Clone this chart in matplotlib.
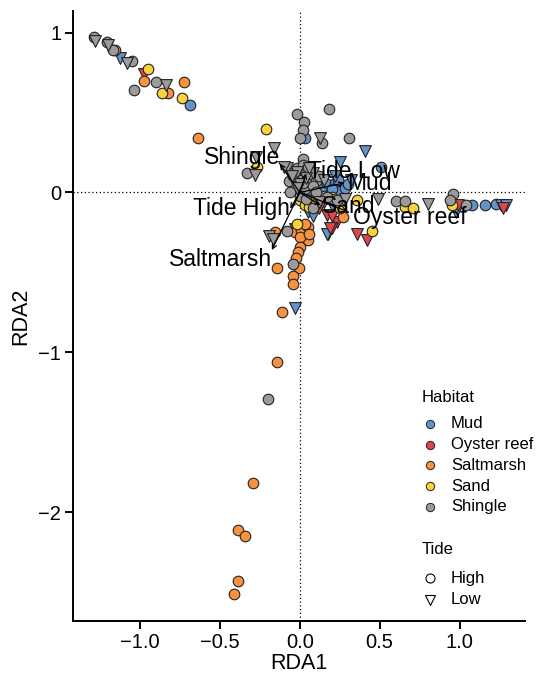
import matplotlib.pyplot as plt
from matplotlib.lines import Line2D
import numpy as np

plt.rcParams['font.family'] = ['Liberation Sans', 'DejaVu Sans']

habitats = ['Mud', 'Oyster reef', 'Saltmarsh', 'Sand', 'Shingle']
tides = ['High', 'Low']
colours = {'Mud': '#6393CB', 'Oyster reef': '#E0474C', 'Saltmarsh': '#F8923F',
           'Sand': '#F9D23C', 'Shingle': '#9B9B9B'}

# site scores: (RDA1, RDA2)
mud_high = [(-0.69, 0.55), (0.03, 0.34), (0.51, 0.16), (1.08, -0.08), (1.16, -0.08),
            (1.23, -0.07), (0.12, 0.03), (0.17, 0.05), (0.22, 0.06), (0.18, -0.02),
            (0.25, 0.01), (0.28, 0.03), (0.10, -0.03), (0.30, 0.05), (0.14, 0.0),
            (0.20, 0.02), (0.24, 0.08)]
mud_low = [(-1.125, 0.84), (0.41, 0.26), (0.25, 0.19), (1.26, -0.08), (1.29, -0.08),
           (-0.03, -0.725), (0.175, -0.26), (0.06, 0.0), (0.05, -0.12), (0.15, -0.06),
           (0.22, 0.10), (0.20, -0.08), (0.32, 0.08), (0.98, -0.12), (0.17, -0.26),
           (0.08, -0.15)]
oyster_low = [(-0.975, 0.74), (0.99, -0.08), (1.27, -0.10), (0.17, -0.14), (0.23, -0.185),
              (0.20, -0.22), (0.36, -0.26), (0.42, -0.30), (-0.03, -0.23), (0.19, -0.22),
              (0.12, -0.10), (0.20, -0.15)]
salt_high = [(-1.16, 0.89), (-0.975, 0.70), (-0.825, 0.62), (-0.725, 0.69), (-0.64, 0.34),
             (0.27, -0.155), (-0.155, -0.25), (-0.145, -0.475), (-0.03, -0.25), (0.01, -0.24),
             (0.05, -0.215), (0.05, -0.30), (0.0, -0.28), (0.0, -0.34), (-0.01, -0.375),
             (-0.025, -0.41), (-0.005, -0.47), (-0.04, -0.52), (-0.04, -0.575), (-0.11, -0.75),
             (-0.14, -1.06), (-0.29, -1.82), (-0.39, -2.11), (-0.34, -2.15), (-0.39, -2.43),
             (-0.41, -2.51), (0.03, -0.20), (0.06, -0.26)]
sand_high = [(-0.95, 0.775), (-0.86, 0.625), (-0.74, 0.59), (-0.21, 0.40), (-0.27, 0.16),
             (0.66, -0.09), (0.71, -0.095), (0.95, -0.08), (0.45, -0.24), (0.0, -0.05),
             (0.03, -0.08), (0.08, -0.06), (0.20, -0.03), (0.36, -0.05), (-0.02, -0.20),
             (0.06, -0.09), (0.10, -0.07), (0.25, -0.10)]
shingle_high = [(-1.29, 0.97), (-1.21, 0.94), (-1.17, 0.89), (-1.05, 0.825), (-0.90, 0.69),
                (-1.04, 0.64), (-0.33, 0.12), (0.18, 0.525), (-0.02, 0.49), (0.025, 0.44),
                (0.02, 0.39), (0.0, 0.34), (0.14, 0.31), (0.31, 0.34), (0.02, 0.21),
                (0.96, -0.01), (0.60, -0.055), (0.66, -0.055), (0.94, -0.05), (1.04, -0.08),
                (-0.08, -0.24), (-0.04, -0.45), (-0.20, -1.29), (-0.05, 0.12), (-0.02, 0.15),
                (0.03, 0.13), (0.06, 0.10), (0.0, 0.08), (-0.07, 0.07), (0.05, 0.05),
                (0.10, 0.07), (0.03, 0.02), (-0.03, 0.02), (0.15, -0.02), (0.20, -0.04),
                (0.08, -0.10), (0.02, 0.17), (0.05, 0.16), (-0.04, 0.10), (0.08, 0.04),
                (0.12, 0.10), (0.0, -0.02), (0.04, -0.04), (-0.06, 0.0), (0.10, 0.0),
                (0.02, 0.06), (0.17, -0.03), (0.23, -0.05)]
shingle_low = [(-1.28, 0.95), (-1.20, 0.92), (-1.08, 0.81), (-0.84, 0.67), (-0.16, 0.28),
               (-0.275, 0.22), (-0.28, 0.11), (0.125, 0.34), (0.49, -0.04), (0.80, -0.07),
               (-0.19, -0.27), (-0.17, -0.29), (-0.08, 0.15), (-0.02, 0.13), (0.0, 0.05),
               (0.08, 0.12), (0.15, 0.08), (0.28, -0.04), (0.12, -0.06), (-0.10, 0.16),
               (-0.05, 0.10), (0.04, 0.09), (0.06, 0.15), (-0.02, 0.03)]

# biplot arrows (constraints) and their labels
arrow_names = ['Shingle', 'Tide Low', 'Mud', 'Sand', 'Oyster reef', 'Tide High', 'Saltmarsh']
arrow_x = [-0.125, 0.04, 0.28, 0.13, 0.30, -0.06, -0.175]
arrow_y = [0.18, 0.12, 0.06, -0.08, -0.12, -0.10, -0.36]
label_x = [-0.125, 0.05, 0.295, 0.14, 0.335, -0.06, -0.175]
label_y = [0.22, 0.13, 0.055, -0.085, -0.155, -0.10, -0.42]

groups = [
    ('Mud', 'o', mud_high), ('Mud', 'v', mud_low),
    ('Oyster reef', 'v', oyster_low),
    ('Saltmarsh', 'o', salt_high),
    ('Sand', 'o', sand_high),
    ('Shingle', 'o', shingle_high), ('Shingle', 'v', shingle_low),
]

W, H = 539, 673
fig = plt.figure(figsize=(W / 100, H / 100), dpi=100)
ax = fig.add_axes([73 / W, 1 - 621 / H, 452 / W, 610 / H])

ax.axhline(0, color='black', lw=0.9, ls=(0, (1, 2)), zorder=1)
ax.axvline(0, color='black', lw=0.9, ls=(0, (1, 2)), zorder=1)

for hab, mk, pts in groups:
    a = np.array(pts)
    ax.scatter(a[:, 0], a[:, 1], s=58 if mk == 'o' else 72, marker=mk,
               facecolor=colours[hab], edgecolor='#222222', linewidth=0.8, zorder=3)

for name, x, y, lx, ly in zip(arrow_names, arrow_x, arrow_y, label_x, label_y):
    ax.annotate('', xy=(x, y), xytext=(0, 0),
                arrowprops=dict(arrowstyle='->', color='black', lw=0.9,
                                mutation_scale=8, shrinkA=0, shrinkB=0), zorder=4)
    ha = 'right' if lx < 0 else 'left'
    ax.text(lx, ly, name, ha=ha, va='center', fontsize=16.5, zorder=5)

ax.set_xlim(-1.42, 1.41)
ax.set_ylim(-2.68, 1.135)
ax.set_xticks([-1.0, -0.5, 0.0, 0.5, 1.0])
ax.set_yticks([-2, -1, 0, 1])
ax.set_xticklabels(['\u22121.0', '\u22120.5', '0.0', '0.5', '1.0'])
ax.set_yticklabels(['\u22122', '\u22121', '0', '1'])
ax.tick_params(labelsize=14.5, width=1.4, length=5.5, pad=3)
ax.set_xlabel('RDA1', fontsize=15.5, labelpad=1)
ax.set_ylabel('RDA2', fontsize=15.5, labelpad=5)
for s in ['top', 'right']:
    ax.spines[s].set_visible(False)
for s in ['left', 'bottom']:
    ax.spines[s].set_linewidth(1.4)


# legends, placed in pixel positions like the reference
def px(x, y):
    return x / W, 1 - y / H


fig.text(*px(422, 398), 'Habitat', fontsize=12, va='center', ha='left')
for i, h in enumerate(habitats):
    yy = 424 + i * 20.7
    fig.add_artist(Line2D([px(430, yy)[0]], [px(430, yy)[1]], marker='o', ls='',
                          markersize=6, markerfacecolor=colours[h],
                          markeredgecolor='#222222', markeredgewidth=0.7))
    fig.text(*px(451, yy), h, fontsize=12, va='center', ha='left')

fig.text(*px(422, 550), 'Tide', fontsize=12, va='center', ha='left')
for i, (t, m) in enumerate(zip(tides, ['o', 'v'])):
    yy = 578 + i * 22
    fig.add_artist(Line2D([px(430, yy)[0]], [px(430, yy)[1]], marker=m, ls='',
                          markersize=6.5, markerfacecolor='white',
                          markeredgecolor='black', markeredgewidth=0.8))
    fig.text(*px(451, yy), t, fontsize=12, va='center', ha='left')

fig.savefig('out.png', dpi=100)
